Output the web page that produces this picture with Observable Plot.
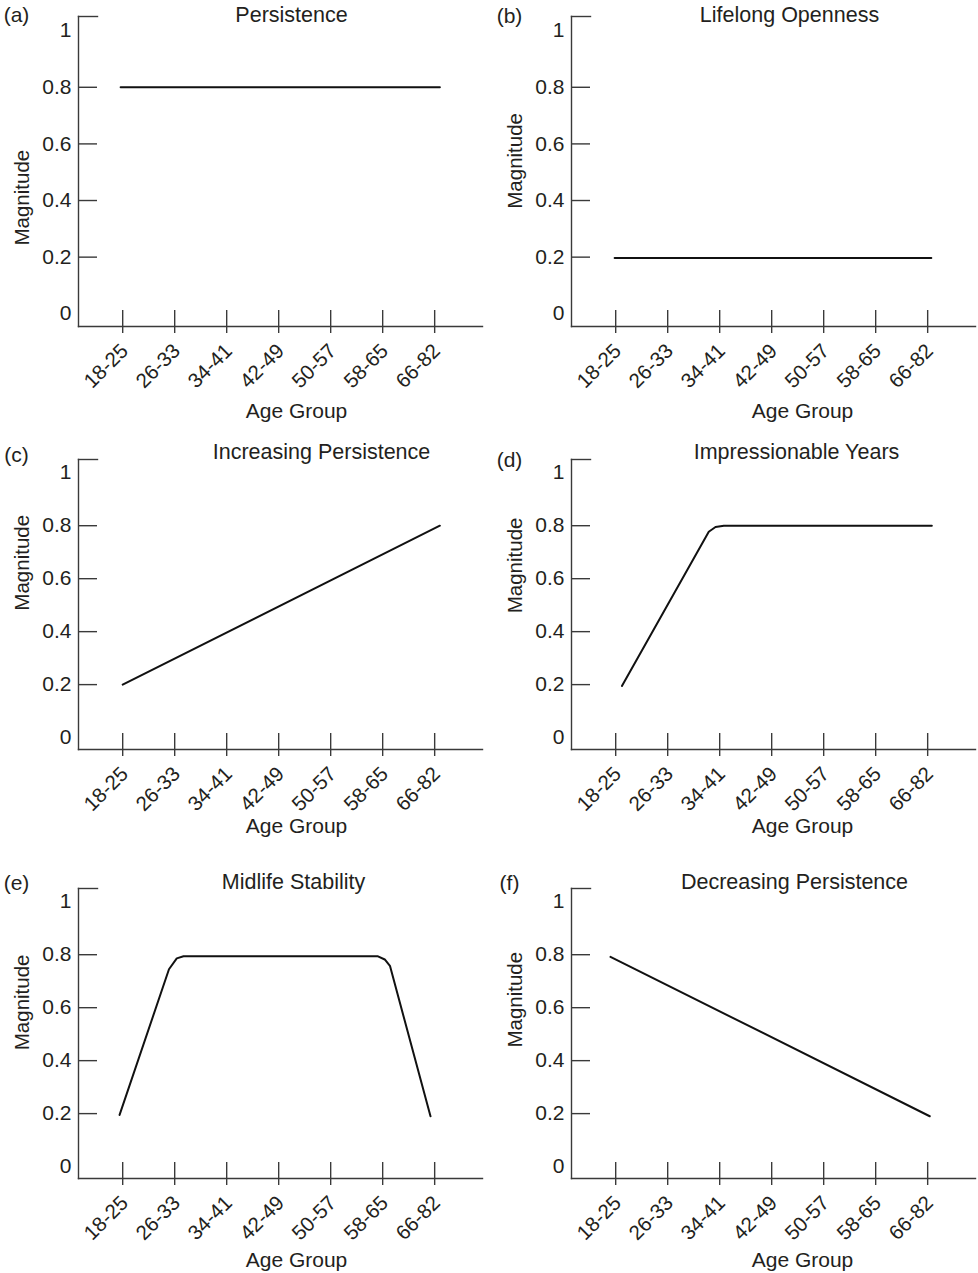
<!DOCTYPE html>
<html><head><meta charset="utf-8">
<script src="https://cdn.jsdelivr.net/npm/d3@7"></script>
<script src="https://cdn.jsdelivr.net/npm/@observablehq/plot@0.6"></script>
<style>
body{margin:0;background:#fff;}
#root{position:relative;width:978px;height:1273px;overflow:hidden;background:#fff;}
.panel{position:absolute;}
</style></head><body><div id="root"></div>
<script>
// ---- data ----
const categories = ["18-25","26-33","34-41","42-49","50-57","58-65","66-82"];
const categoryIndex = [0,1,2,3,4,5,6];
const yTickValues = [0,0.2,0.4,0.6,0.8,1];
const yTickMarks = [0.2,0.4,0.6,0.8];
const panelLetters = ["(a)","(b)","(c)","(d)","(e)","(f)"];
const panelTitles = ["Persistence","Lifelong Openness","Increasing Persistence","Impressionable Years","Midlife Stability","Decreasing Persistence"];
const xLabel = "Age Group";
const yLabel = "Magnitude";

// positions along the age-group axis (category index) and magnitudes
const persistencePos = [-0.04, 6.1];
const persistenceMag = [0.8, 0.8];
const opennessPos = [-0.02, 6.07];
const opennessMag = [0.197, 0.197];
const increasingPos = [0, 6.1];
const increasingMag = [0.2, 0.8];
const impressionablePos = [0.12, 1.79, 1.92, 2.08, 6.08];
const impressionableMag = [0.195, 0.777, 0.795, 0.8, 0.8];
const midlifePos = [-0.06, 0.89, 1.04, 1.17, 4.91, 5.04, 5.14, 5.92];
const midlifeMag = [0.195, 0.745, 0.786, 0.794, 0.794, 0.782, 0.758, 0.19];
const decreasingPos = [-0.1, 6.04];
const decreasingMag = [0.792, 0.19];

const seriesPos = [persistencePos, opennessPos, increasingPos, impressionablePos, midlifePos, decreasingPos];
const seriesMag = [persistenceMag, opennessMag, increasingMag, impressionableMag, midlifeMag, decreasingMag];

// ---- layout (styles only) ----
const rows = [
  {top: 0,   height: 430, mt: 16, fh: 310, titleDy: -1, letterDy: [-1, 0],  xlabDy: 85, magY: [0.41, 0.54]},
  {top: 430, height: 430, mt: 29, fh: 290, titleDy: -7, letterDy: [-4, 1],  xlabDy: 77, magY: [0.66, 0.65]},
  {top: 860, height: 413, mt: 28, fh: 290, titleDy: -6, letterDy: [-5, -5], xlabDy: 82, magY: [0.62, 0.63]}
];
const cols = [{left: 0, width: 493}, {left: 493, width: 485}];
const titleDx = [11, 16, 41, 23, 13, 21];
const xlabDx = [16, 29];
const FW = 404;
const axisColor = "#3a3a3a";
const font = "'Liberation Sans', Arial, Helvetica, sans-serif";

const root = document.getElementById("root");
for (let p = 0; p < 6; p++) {
  const r = rows[Math.floor(p / 2)], ci = p % 2, c = cols[ci];
  const data = seriesPos[p].map((x, i) => ({x, y: seriesMag[p][i]}));
  const chart = Plot.plot({
    width: c.width,
    height: r.height,
    marginLeft: 78,
    marginRight: c.width - 78 - FW,
    marginTop: r.mt,
    marginBottom: r.height - r.mt - r.fh,
    style: {fontFamily: font, fontSize: "20px", color: "#231f20", background: "transparent", overflow: "visible"},
    x: {type: "linear", domain: [-0.85, 6.92]},
    y: {type: "linear", domain: [-0.045, 1.05]},
    marks: [
      Plot.frame({anchor: "left", stroke: axisColor, strokeWidth: 1.4}),
      Plot.frame({anchor: "bottom", stroke: axisColor, strokeWidth: 1.4}),
      Plot.frame({anchor: "top", stroke: axisColor, strokeWidth: 1.4, insetRight: FW - 19}),
      Plot.tickY(yTickMarks, {y: d => d, stroke: axisColor, strokeWidth: 1.4, insetRight: FW - 19}),
      Plot.tickX(categoryIndex, {x: d => d, stroke: axisColor, strokeWidth: 1.4, insetTop: r.fh - 16, insetBottom: -7}),
      Plot.axisY(yTickValues, {tickSize: 0, tickPadding: 7, label: null, fontSize: 21, tickFormat: d => String(d)}),
      Plot.axisX(categoryIndex, {tickSize: 0, tickPadding: 21, dx: 2, tickRotate: -45, tickFormat: i => categories[i], label: null, fontSize: 20.5}),
      Plot.line(data, {x: "x", y: "y", stroke: "#111", strokeWidth: 2}),
      Plot.text([panelTitles[p]], {frameAnchor: "top", lineAnchor: "middle", dx: titleDx[p], dy: r.titleDy, fontSize: 21.5, fill: "#231f20"}),
      Plot.text([panelLetters[p]], {frameAnchor: "top-left", lineAnchor: "middle", dx: -62, dy: r.letterDy[ci], textAnchor: "middle", fontSize: 21, fill: "#231f20"}),
      Plot.text([xLabel], {frameAnchor: "bottom", lineAnchor: "middle", dx: xlabDx[ci], dy: r.xlabDy, fontSize: 21, fill: "#231f20"}),
      Plot.text([r.magY[ci]], {y: d => d, text: () => yLabel, frameAnchor: "left", textAnchor: "middle", rotate: -90, dx: -56, fontSize: 20.5, fill: "#231f20"})
    ]
  });
  const div = document.createElement("div");
  div.className = "panel";
  div.style.left = c.left + "px";
  div.style.top = r.top + "px";
  div.appendChild(chart);
  root.appendChild(div);
}
</script></body></html>
